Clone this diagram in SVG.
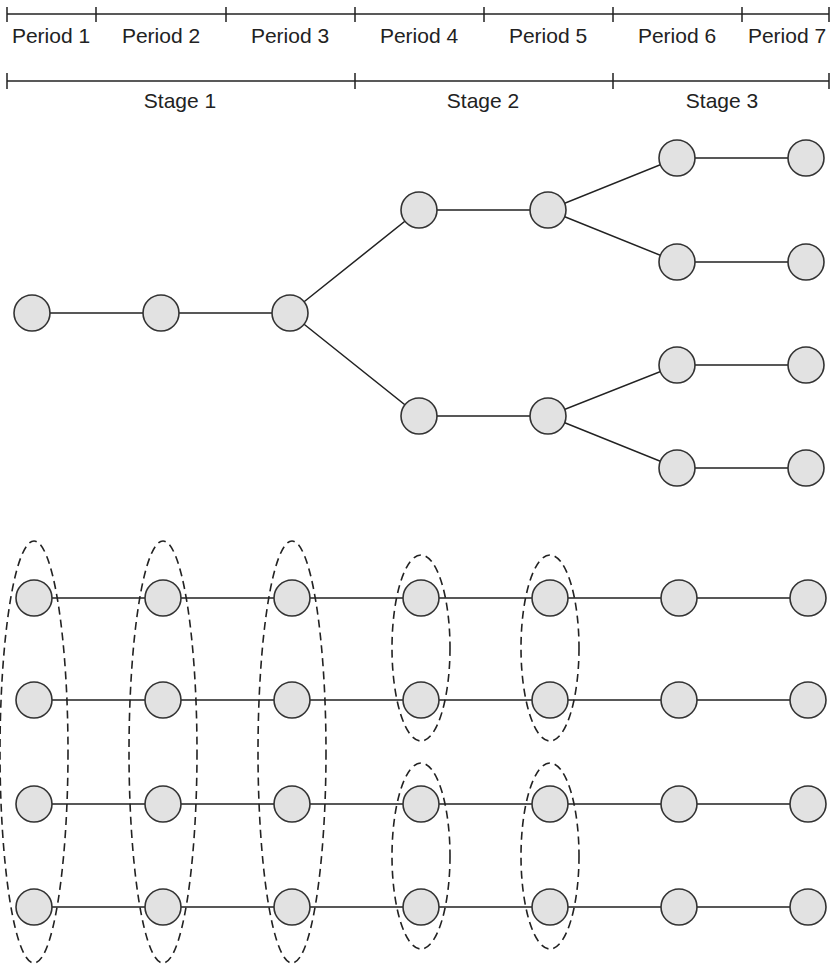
<svg xmlns="http://www.w3.org/2000/svg" width="831" height="968" viewBox="0 0 831 968">
<style>
.ax{stroke:#222;stroke-width:1.5;fill:none}
.lbl{font-family:"Liberation Sans",Arial,sans-serif;font-size:21px;fill:#222;text-anchor:middle}
.edge{stroke:#222;stroke-width:1.5;fill:none}
.nd{fill:#e2e2e2;stroke:#333;stroke-width:1.6}
.grp{fill:none;stroke:#222;stroke-width:1.6;stroke-dasharray:8 5}
</style>
<rect width="831" height="968" fill="#ffffff"/>
<g id="timeline">
<line class="ax" x1="7" y1="14" x2="829" y2="14"/>
<path class="ax" d="M7 7V22M96 7V22M226 7V22M355 7V22M484 7V22M613 7V22M742 7V22M829 7V22"/>
<text class="lbl" x="51" y="43">Period 1</text>
<text class="lbl" x="161" y="43">Period 2</text>
<text class="lbl" x="290" y="43">Period 3</text>
<text class="lbl" x="419" y="43">Period 4</text>
<text class="lbl" x="548" y="43">Period 5</text>
<text class="lbl" x="677" y="43">Period 6</text>
<text class="lbl" x="787" y="43">Period 7</text>
<line class="ax" x1="7" y1="81" x2="829" y2="81"/>
<path class="ax" d="M7 73V89M355 73V89M613 73V89M829 73V89"/>
<text class="lbl" x="180" y="108">Stage 1</text>
<text class="lbl" x="483" y="108">Stage 2</text>
<text class="lbl" x="722" y="108">Stage 3</text>
</g>
<g id="connectors">
<path class="edge" d="M32 313H290M290 313L419 210H548L677 158H806M548 210L677 262H806M290 313L419 416H548L677 365H806M548 416L677 468H806"/>
<path class="edge" d="M34 598H808M34 700H808M34 804H808M34 907H808"/>
</g>
<g id="tree-nodes">
<g id="t1"><circle class="nd" cx="32" cy="313" r="18"/></g>
<g id="t2"><circle class="nd" cx="161" cy="313" r="18"/></g>
<g id="t3"><circle class="nd" cx="290" cy="313" r="18"/></g>
<g id="t4a"><circle class="nd" cx="419" cy="210" r="18"/></g>
<g id="t4b"><circle class="nd" cx="419" cy="416" r="18"/></g>
<g id="t5a"><circle class="nd" cx="548" cy="210" r="18"/></g>
<g id="t5b"><circle class="nd" cx="548" cy="416" r="18"/></g>
<g id="t6a"><circle class="nd" cx="677" cy="158" r="18"/></g>
<g id="t6b"><circle class="nd" cx="677" cy="262" r="18"/></g>
<g id="t6c"><circle class="nd" cx="677" cy="365" r="18"/></g>
<g id="t6d"><circle class="nd" cx="677" cy="468" r="18"/></g>
<g id="t7a"><circle class="nd" cx="806" cy="158" r="18"/></g>
<g id="t7b"><circle class="nd" cx="806" cy="262" r="18"/></g>
<g id="t7c"><circle class="nd" cx="806" cy="365" r="18"/></g>
<g id="t7d"><circle class="nd" cx="806" cy="468" r="18"/></g>
</g>
<g id="grid-nodes">
<g id="r1">
<circle class="nd" cx="34" cy="598" r="18"/><circle class="nd" cx="163" cy="598" r="18"/><circle class="nd" cx="292" cy="598" r="18"/><circle class="nd" cx="421" cy="598" r="18"/><circle class="nd" cx="550" cy="598" r="18"/><circle class="nd" cx="679" cy="598" r="18"/><circle class="nd" cx="808" cy="598" r="18"/>
</g>
<g id="r2">
<circle class="nd" cx="34" cy="700" r="18"/><circle class="nd" cx="163" cy="700" r="18"/><circle class="nd" cx="292" cy="700" r="18"/><circle class="nd" cx="421" cy="700" r="18"/><circle class="nd" cx="550" cy="700" r="18"/><circle class="nd" cx="679" cy="700" r="18"/><circle class="nd" cx="808" cy="700" r="18"/>
</g>
<g id="r3">
<circle class="nd" cx="34" cy="804" r="18"/><circle class="nd" cx="163" cy="804" r="18"/><circle class="nd" cx="292" cy="804" r="18"/><circle class="nd" cx="421" cy="804" r="18"/><circle class="nd" cx="550" cy="804" r="18"/><circle class="nd" cx="679" cy="804" r="18"/><circle class="nd" cx="808" cy="804" r="18"/>
</g>
<g id="r4">
<circle class="nd" cx="34" cy="907" r="18"/><circle class="nd" cx="163" cy="907" r="18"/><circle class="nd" cx="292" cy="907" r="18"/><circle class="nd" cx="421" cy="907" r="18"/><circle class="nd" cx="550" cy="907" r="18"/><circle class="nd" cx="679" cy="907" r="18"/><circle class="nd" cx="808" cy="907" r="18"/>
</g>
</g>
<g id="groups">
<ellipse class="grp" cx="34" cy="752" rx="34" ry="211"/>
<ellipse class="grp" cx="163" cy="752" rx="34" ry="211"/>
<ellipse class="grp" cx="292" cy="752" rx="34" ry="211"/>
<ellipse class="grp" cx="421" cy="648" rx="29" ry="93"/>
<ellipse class="grp" cx="550" cy="648" rx="29" ry="93"/>
<ellipse class="grp" cx="421" cy="856" rx="29" ry="93"/>
<ellipse class="grp" cx="550" cy="856" rx="29" ry="93"/>
</g>
</svg>
